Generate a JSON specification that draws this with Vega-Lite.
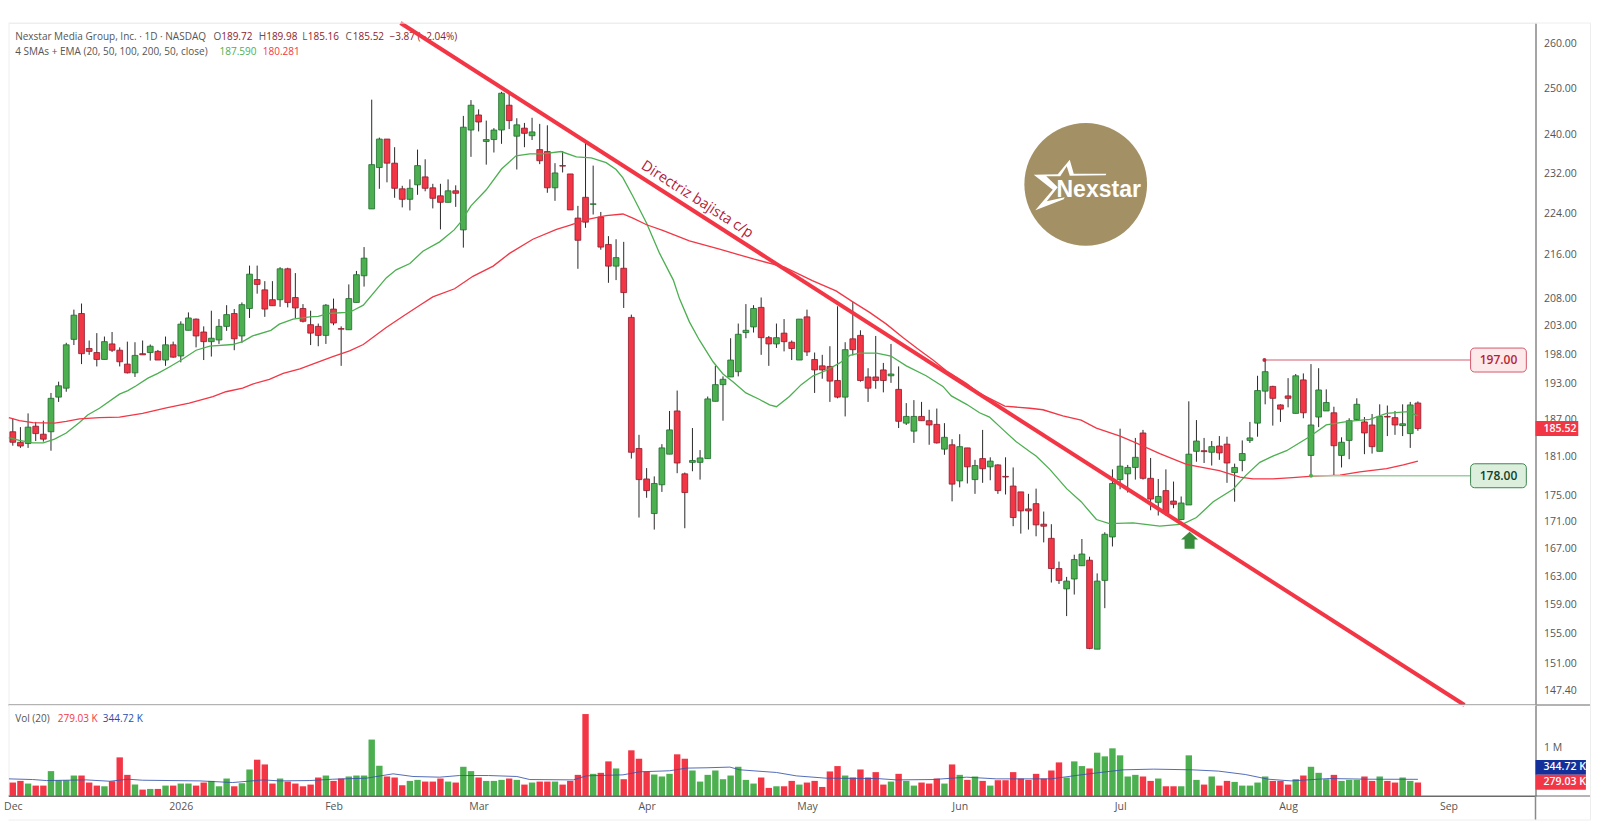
{
  "$schema": "https://vega.github.io/schema/vega-lite/v6.json",
  "background": "white",
  "padding": {"left": 2.5, "top": 14, "right": 0, "bottom": 0},
  "spacing": 0,
  "bounds": "flush",
  "config": {
    "view": {"stroke": "#eeeeee"},
    "axis": {"labelFont": "Open Sans", "labelFontSize": 10.5, "labelColor": "#555555", "ticks": false, "grid": false, "title": null, "domainColor": "#8a8a8a", "domainWidth": 1.5}
  },
  "datasets": {
    "bars": [
      {"n":1,"o":185,"h":187.2,"l":182.75,"c":183.3,"v":278},
      {"n":2,"o":183.3,"h":185.75,"l":182.4,"c":182.7,"v":312},
      {"n":3,"o":183.1,"h":188,"l":182.4,"c":185.75,"v":257},
      {"n":4,"o":185.9,"h":186.6,"l":183.5,"c":184.7,"v":215},
      {"n":5,"o":184.6,"h":186.8,"l":183.4,"c":183.8,"v":215},
      {"n":6,"o":185,"h":191.4,"l":181.95,"c":190.5,"v":514},
      {"n":7,"o":190.7,"h":193.3,"l":189.9,"c":192.6,"v":326},
      {"n":8,"o":192.2,"h":200,"l":191.6,"c":199.65,"v":326},
      {"n":9,"o":200.6,"h":205.9,"l":199.6,"c":204.9,"v":423},
      {"n":10,"o":205.2,"h":207,"l":196.3,"c":198.1,"v":423},
      {"n":11,"o":199,"h":200.4,"l":197.9,"c":198.5,"v":278},
      {"n":12,"o":198.3,"h":201.7,"l":195.9,"c":197.1,"v":215},
      {"n":13,"o":197.1,"h":201.1,"l":197.1,"c":200.2,"v":201},
      {"n":14,"o":199.8,"h":201.9,"l":198.4,"c":198.7,"v":305},
      {"n":15,"o":198.7,"h":199.2,"l":195.9,"c":196.7,"v":798},
      {"n":16,"o":196.3,"h":200.2,"l":194.7,"c":194.8,"v":437},
      {"n":17,"o":194.8,"h":200.1,"l":194.1,"c":197.8,"v":236},
      {"n":18,"o":198.1,"h":200.4,"l":197.9,"c":197.9,"v":132},
      {"n":19,"o":198.3,"h":199.7,"l":196.9,"c":199.4,"v":146},
      {"n":20,"o":198.5,"h":198.75,"l":197,"c":197,"v":146},
      {"n":21,"o":197,"h":201.1,"l":196,"c":199.65,"v":215},
      {"n":22,"o":199.65,"h":200.2,"l":197.4,"c":197.5,"v":215},
      {"n":23,"o":197.7,"h":203.8,"l":196.6,"c":203.3,"v":257},
      {"n":24,"o":202.2,"h":205.4,"l":202.2,"c":204.4,"v":257},
      {"n":25,"o":204.2,"h":204.3,"l":199.2,"c":201.2,"v":215},
      {"n":26,"o":201.9,"h":202.9,"l":197,"c":200.2,"v":278},
      {"n":27,"o":200.2,"h":205.7,"l":197.6,"c":200.8,"v":312},
      {"n":28,"o":200.5,"h":204.2,"l":199.8,"c":202.9,"v":201},
      {"n":29,"o":202.9,"h":206.7,"l":202.1,"c":205,"v":361},
      {"n":30,"o":205.2,"h":206,"l":198.7,"c":200.7,"v":201},
      {"n":31,"o":201.2,"h":207.2,"l":200,"c":206.8,"v":264},
      {"n":32,"o":206.1,"h":214,"l":204.4,"c":212.4,"v":548},
      {"n":33,"o":211.4,"h":214,"l":208.8,"c":210.5,"v":750},
      {"n":34,"o":209.5,"h":211.1,"l":204.6,"c":206,"v":652},
      {"n":35,"o":207.7,"h":211.1,"l":206.6,"c":206.6,"v":257},
      {"n":36,"o":207.7,"h":213.7,"l":206.4,"c":213.4,"v":361},
      {"n":37,"o":213.4,"h":213.6,"l":206.3,"c":207.2,"v":298},
      {"n":38,"o":208.1,"h":212.6,"l":204.3,"c":206.2,"v":257},
      {"n":39,"o":206.1,"h":206.9,"l":203.6,"c":203.8,"v":201},
      {"n":40,"o":203.2,"h":205.7,"l":199.6,"c":201.7,"v":236},
      {"n":41,"o":202.9,"h":203.4,"l":199.4,"c":201.3,"v":382},
      {"n":42,"o":201.3,"h":206.9,"l":199.8,"c":206.7,"v":423},
      {"n":43,"o":206,"h":207.9,"l":203.1,"c":203.5,"v":312},
      {"n":44,"o":202.5,"h":202.9,"l":196,"c":202.4,"v":361},
      {"n":45,"o":202.3,"h":210.5,"l":202.3,"c":207.9,"v":403},
      {"n":46,"o":207.2,"h":213,"l":207.2,"c":212.3,"v":423},
      {"n":47,"o":212.1,"h":217.5,"l":210.1,"c":215.4,"v":423},
      {"n":48,"o":224.9,"h":247.5,"l":224.9,"c":233.8,"v":1166},
      {"n":49,"o":233.2,"h":239.4,"l":228.9,"c":239.1,"v":625},
      {"n":50,"o":239.1,"h":239.1,"l":230.2,"c":234.1,"v":403},
      {"n":51,"o":234.1,"h":237.4,"l":227.1,"c":229,"v":382},
      {"n":52,"o":228.9,"h":229.5,"l":225.2,"c":226.8,"v":222},
      {"n":53,"o":226.8,"h":230.8,"l":224.6,"c":229,"v":312},
      {"n":54,"o":229.7,"h":236.9,"l":227.7,"c":233.6,"v":333},
      {"n":55,"o":231.3,"h":234.9,"l":228.4,"c":229,"v":298},
      {"n":56,"o":229.1,"h":229.9,"l":225,"c":227,"v":298},
      {"n":57,"o":227.5,"h":229.9,"l":220.9,"c":226.2,"v":361},
      {"n":58,"o":226.2,"h":230.8,"l":226.2,"c":228.5,"v":298},
      {"n":59,"o":228.5,"h":229.6,"l":225.3,"c":228,"v":278},
      {"n":60,"o":220.8,"h":244,"l":217.4,"c":241.6,"v":604},
      {"n":61,"o":241,"h":247.4,"l":235.4,"c":246.3,"v":514},
      {"n":62,"o":244.2,"h":245.4,"l":240.7,"c":242.7,"v":382},
      {"n":63,"o":238.6,"h":243,"l":233.8,"c":239,"v":312},
      {"n":64,"o":239,"h":241.4,"l":236.3,"c":241,"v":312},
      {"n":65,"o":241,"h":249.2,"l":238.1,"c":248.9,"v":333},
      {"n":66,"o":246.3,"h":249,"l":241.2,"c":243,"v":361},
      {"n":67,"o":239.7,"h":243.5,"l":232.8,"c":242.1,"v":333},
      {"n":68,"o":241.4,"h":242.5,"l":237.4,"c":240.3,"v":236},
      {"n":69,"o":239.8,"h":243.6,"l":238.9,"c":240.6,"v":278},
      {"n":70,"o":236.9,"h":242.3,"l":233.9,"c":234.6,"v":298},
      {"n":71,"o":236.5,"h":242,"l":228.1,"c":229.1,"v":298},
      {"n":72,"o":229.1,"h":234.1,"l":226.5,"c":232.1,"v":298},
      {"n":73,"o":233.6,"h":236.6,"l":232.2,"c":233.5,"v":236},
      {"n":74,"o":231.9,"h":231.9,"l":224.7,"c":224.7,"v":312},
      {"n":75,"o":223.1,"h":225.5,"l":213.4,"c":218.8,"v":437},
      {"n":76,"o":227.2,"h":238.6,"l":221.2,"c":222.3,"v":1693},
      {"n":77,"o":225.8,"h":233.6,"l":223.8,"c":225.9,"v":458},
      {"n":78,"o":223.3,"h":224.3,"l":217,"c":217.5,"v":479},
      {"n":79,"o":218,"h":219.6,"l":210.8,"c":213.9,"v":715},
      {"n":80,"o":213.9,"h":219,"l":211.3,"c":215.5,"v":569},
      {"n":81,"o":213.5,"h":218.5,"l":206.2,"c":209,"v":347},
      {"n":82,"o":204.5,"h":205,"l":180.7,"c":181.7,"v":944},
      {"n":83,"o":182.3,"h":184.5,"l":171.6,"c":177.4,"v":770},
      {"n":84,"o":177.5,"h":179.2,"l":174.6,"c":175.7,"v":507},
      {"n":85,"o":172.2,"h":177.9,"l":169.8,"c":176.8,"v":444},
      {"n":86,"o":176.6,"h":183,"l":175.5,"c":182.4,"v":403},
      {"n":87,"o":181.4,"h":188.4,"l":181.4,"c":185.3,"v":458},
      {"n":88,"o":188.4,"h":191.8,"l":178.4,"c":180,"v":861},
      {"n":89,"o":178.3,"h":178.5,"l":170,"c":175.4,"v":770},
      {"n":90,"o":180.1,"h":185.6,"l":178.7,"c":180.4,"v":527},
      {"n":91,"o":180.1,"h":182.05,"l":177.4,"c":180.8,"v":298},
      {"n":92,"o":180.7,"h":190.8,"l":180.7,"c":190.4,"v":437},
      {"n":93,"o":190,"h":196,"l":190,"c":192.8,"v":527},
      {"n":94,"o":192.8,"h":194.2,"l":186.8,"c":193.7,"v":347},
      {"n":95,"o":194.1,"h":200.8,"l":194.1,"c":197,"v":423},
      {"n":96,"o":195,"h":203.4,"l":194.2,"c":201.5,"v":604},
      {"n":97,"o":201.8,"h":206.9,"l":200.8,"c":202.2,"v":333},
      {"n":98,"o":202.8,"h":206.7,"l":201.8,"c":206.1,"v":257},
      {"n":99,"o":206.3,"h":208.1,"l":197.9,"c":200.9,"v":382},
      {"n":100,"o":200.9,"h":201.2,"l":196,"c":199.8,"v":167},
      {"n":101,"o":199.8,"h":203.4,"l":199.1,"c":200.9,"v":201},
      {"n":102,"o":201.7,"h":204.2,"l":198.5,"c":200.2,"v":201},
      {"n":103,"o":200.1,"h":200.4,"l":197,"c":199,"v":312},
      {"n":104,"o":197,"h":204.2,"l":197,"c":204.2,"v":236},
      {"n":105,"o":204.6,"h":205.9,"l":197.7,"c":198.4,"v":278},
      {"n":106,"o":197.1,"h":198.3,"l":191.4,"c":195.3,"v":312},
      {"n":107,"o":196,"h":197.9,"l":193.8,"c":195.3,"v":187},
      {"n":108,"o":195.9,"h":199.4,"l":189.9,"c":193.4,"v":507},
      {"n":109,"o":193.5,"h":206.5,"l":190.5,"c":190.7,"v":618},
      {"n":110,"o":190.7,"h":200.1,"l":187.5,"c":198.8,"v":423},
      {"n":111,"o":200.7,"h":207.3,"l":197.8,"c":198.8,"v":382},
      {"n":112,"o":201.3,"h":202.2,"l":193.3,"c":193.5,"v":548},
      {"n":113,"o":194.1,"h":195.6,"l":189.9,"c":192.2,"v":382},
      {"n":114,"o":194.1,"h":201.2,"l":192.1,"c":193.5,"v":493},
      {"n":115,"o":195.3,"h":196.5,"l":191.5,"c":193.5,"v":236},
      {"n":116,"o":194.3,"h":199.8,"l":193.1,"c":194.6,"v":298},
      {"n":117,"o":192,"h":195.9,"l":185.6,"c":186.7,"v":458},
      {"n":118,"o":186.4,"h":189.7,"l":186.1,"c":187.5,"v":312},
      {"n":119,"o":185.1,"h":190.2,"l":183.2,"c":187.5,"v":215},
      {"n":120,"o":187.5,"h":189.9,"l":186.8,"c":186.8,"v":278},
      {"n":121,"o":186.8,"h":188.6,"l":182.9,"c":186.1,"v":257},
      {"n":122,"o":186.2,"h":188.8,"l":183.1,"c":183.2,"v":361},
      {"n":123,"o":182.2,"h":186.4,"l":181.3,"c":184.1,"v":257},
      {"n":124,"o":182.9,"h":183.8,"l":174.05,"c":176.7,"v":652},
      {"n":125,"o":177.2,"h":184.6,"l":176.2,"c":182.6,"v":437},
      {"n":126,"o":182.4,"h":182.4,"l":176.8,"c":179.4,"v":333},
      {"n":127,"o":177.4,"h":180.5,"l":175.2,"c":179.6,"v":403},
      {"n":128,"o":180.7,"h":185.3,"l":176.9,"c":179.1,"v":312},
      {"n":129,"o":179.4,"h":180.9,"l":177.3,"c":180.3,"v":215},
      {"n":130,"o":179.7,"h":179.8,"l":175.2,"c":175.7,"v":326},
      {"n":131,"o":177.9,"h":180.9,"l":175.1,"c":177.8,"v":326},
      {"n":132,"o":176.4,"h":179.3,"l":170.3,"c":171.6,"v":493},
      {"n":133,"o":175.5,"h":175.5,"l":169.2,"c":172.6,"v":361},
      {"n":134,"o":172.9,"h":175.2,"l":169.8,"c":172.6,"v":333},
      {"n":135,"o":173.7,"h":176,"l":168.8,"c":170.5,"v":458},
      {"n":136,"o":170.6,"h":172.5,"l":167.9,"c":170.3,"v":361},
      {"n":137,"o":168.5,"h":170.6,"l":162.1,"c":164.1,"v":527},
      {"n":138,"o":164.1,"h":165.1,"l":161.9,"c":162.4,"v":694},
      {"n":139,"o":161.2,"h":162.9,"l":157.4,"c":162.3,"v":382},
      {"n":140,"o":162.6,"h":166.1,"l":160.4,"c":165.4,"v":715},
      {"n":141,"o":164.5,"h":168.4,"l":164.5,"c":166.2,"v":618},
      {"n":142,"o":165.3,"h":165.8,"l":152.9,"c":153,"v":569},
      {"n":143,"o":152.9,"h":163.4,"l":152.9,"c":162.3,"v":895},
      {"n":144,"o":162.4,"h":169.4,"l":158.5,"c":169.1,"v":819},
      {"n":145,"o":168.7,"h":179,"l":167.3,"c":176.8,"v":985},
      {"n":146,"o":177.4,"h":185.5,"l":175.9,"c":179.5,"v":840},
      {"n":147,"o":178.3,"h":179.7,"l":175.4,"c":179.3,"v":403},
      {"n":148,"o":179.3,"h":184,"l":177.4,"c":180.9,"v":437},
      {"n":149,"o":184.8,"h":185.3,"l":177.4,"c":177.6,"v":403},
      {"n":150,"o":177.6,"h":180.8,"l":172.7,"c":174.4,"v":312},
      {"n":151,"o":173.9,"h":177.5,"l":171.9,"c":174.8,"v":361},
      {"n":152,"o":175.7,"h":179,"l":171.9,"c":172.2,"v":201},
      {"n":153,"o":174.1,"h":177.1,"l":173,"c":173.6,"v":201},
      {"n":154,"o":171.3,"h":174.8,"l":171.2,"c":173.8,"v":201},
      {"n":155,"o":173.5,"h":190,"l":173.5,"c":181.4,"v":840},
      {"n":156,"o":181.85,"h":186.9,"l":180.2,"c":183.5,"v":333},
      {"n":157,"o":181.95,"h":184,"l":180,"c":181.8,"v":236},
      {"n":158,"o":181.7,"h":183.5,"l":179.6,"c":182.6,"v":403},
      {"n":159,"o":182.7,"h":184.3,"l":180.5,"c":181.6,"v":215},
      {"n":160,"o":183,"h":184.2,"l":176.9,"c":180,"v":312},
      {"n":161,"o":178.5,"h":179.9,"l":174,"c":179.3,"v":291},
      {"n":162,"o":180.4,"h":183.6,"l":178.7,"c":181.5,"v":215},
      {"n":163,"o":183.6,"h":186.6,"l":183.2,"c":184,"v":215},
      {"n":164,"o":186.4,"h":194.3,"l":184.2,"c":191.8,"v":278},
      {"n":165,"o":191.7,"h":197,"l":189.5,"c":195,"v":403},
      {"n":166,"o":192.5,"h":192.6,"l":186,"c":190.5,"v":312},
      {"n":167,"o":189.4,"h":189.5,"l":186.6,"c":188.7,"v":312},
      {"n":168,"o":190.9,"h":193.9,"l":189,"c":190.5,"v":236},
      {"n":169,"o":188,"h":194.6,"l":188,"c":194.3,"v":347},
      {"n":170,"o":193.6,"h":194.7,"l":187.2,"c":188.1,"v":423},
      {"n":171,"o":181.2,"h":196.3,"l":178,"c":186.1,"v":604},
      {"n":172,"o":187.4,"h":195.6,"l":185.75,"c":191.9,"v":479},
      {"n":173,"o":188.4,"h":192,"l":188.4,"c":189.8,"v":347},
      {"n":174,"o":188.1,"h":189.1,"l":178,"c":182.75,"v":437},
      {"n":175,"o":181.2,"h":184.1,"l":179.3,"c":183.3,"v":312},
      {"n":176,"o":183.6,"h":187.2,"l":180.6,"c":186.8,"v":333},
      {"n":177,"o":187,"h":190.5,"l":186.9,"c":189.5,"v":333},
      {"n":178,"o":186.6,"h":187.4,"l":181.4,"c":184.8,"v":403},
      {"n":179,"o":186.1,"h":187.9,"l":181.5,"c":182.6,"v":312},
      {"n":180,"o":181.85,"h":189.5,"l":181.85,"c":187.5,"v":403},
      {"n":181,"o":187.5,"h":189.3,"l":184.3,"c":187.4,"v":312},
      {"n":182,"o":187.3,"h":188.4,"l":184.5,"c":186.1,"v":278},
      {"n":183,"o":186,"h":189.5,"l":184.3,"c":186.3,"v":382},
      {"n":184,"o":184.7,"h":189.9,"l":182.4,"c":189.4,"v":312},
      {"n":185,"o":189.72,"h":189.98,"l":185.16,"c":185.52,"v":279.03}
    ],
    "sma": [
      {"n":0.48,"p":184.05},{"n":1.87,"p":183.6},{"n":3.62,"p":183.2},{"n":5,"p":183.2},{"n":6.46,"p":183.8},{"n":8,"p":184.8},{"n":9.73,"p":186.5},{"n":10.8,"p":187.75},{"n":12.35,"p":188.85},{"n":14.97,"p":191.2},{"n":16.07,"p":191.8},{"n":17.16,"p":192.6},{"n":18.7,"p":193.9},{"n":20,"p":194.7},{"n":21.5,"p":195.8},{"n":23.05,"p":197},{"n":25,"p":198.7},{"n":26.8,"p":199.4},{"n":29.8,"p":199.7},{"n":31.1,"p":200.2},{"n":32.4,"p":201.2},{"n":34.8,"p":202.2},{"n":35.9,"p":203.3},{"n":37.7,"p":204.2},{"n":39.9,"p":204.6},{"n":41,"p":204.7},{"n":42.3,"p":205.2},{"n":44.7,"p":205.4},{"n":45.5,"p":205.7},{"n":46.9,"p":206.7},{"n":49.9,"p":211.7},{"n":51.2,"p":213.2},{"n":53,"p":214.4},{"n":54.7,"p":216.7},{"n":56.9,"p":218.5},{"n":58.8,"p":220.8},{"n":59.7,"p":222.4},{"n":61,"p":225.5},{"n":63,"p":228.7},{"n":65,"p":232.9},{"n":66.9,"p":235.6},{"n":68.7,"p":236},{"n":70.4,"p":236},{"n":72.8,"p":236.5},{"n":74.8,"p":235.4},{"n":76.75,"p":235.2},{"n":78.7,"p":234.2},{"n":80,"p":232.8},{"n":80.9,"p":231.1},{"n":82.2,"p":227.4},{"n":84,"p":222.1},{"n":85.7,"p":216.3},{"n":87.5,"p":211.3},{"n":88.3,"p":207.9},{"n":89.6,"p":203.7},{"n":90.9,"p":200.5},{"n":92.7,"p":196.7},{"n":94,"p":194.6},{"n":95.3,"p":193.3},{"n":97,"p":191.4},{"n":98.8,"p":190.3},{"n":100.1,"p":189.4},{"n":101,"p":189.1},{"n":102.7,"p":190.8},{"n":104.25,"p":192.8},{"n":105.8,"p":194.3},{"n":107.5,"p":195.2},{"n":109.3,"p":196.5},{"n":110.6,"p":197.8},{"n":111.9,"p":198.2},{"n":114.1,"p":198.2},{"n":116,"p":197.7},{"n":118,"p":196},{"n":120.6,"p":194.3},{"n":122.8,"p":192.5},{"n":123.9,"p":190.9},{"n":125.9,"p":189.5},{"n":127.6,"p":188.1},{"n":128.9,"p":187.4},{"n":130.7,"p":185.3},{"n":132.4,"p":183.4},{"n":134.2,"p":181.8},{"n":135,"p":181.1},{"n":136.8,"p":179},{"n":139,"p":176},{"n":140.9,"p":174},{"n":142.9,"p":171.3},{"n":144.6,"p":170.7},{"n":147.7,"p":170.8},{"n":151.2,"p":170.3},{"n":154.2,"p":170.6},{"n":156,"p":171.6},{"n":158.2,"p":174},{"n":160.8,"p":175.9},{"n":162.5,"p":178.1},{"n":164.3,"p":180.1},{"n":166,"p":181.1},{"n":167.8,"p":181.95},{"n":170.8,"p":184.2},{"n":173,"p":186.1},{"n":175.85,"p":186.7},{"n":178.7,"p":187},{"n":180.9,"p":188},{"n":183.7,"p":188.3},{"n":185,"p":187.59}
    ],
    "ema": [
      {"n":0.48,"p":187.3},{"n":1.87,"p":186.8},{"n":3.62,"p":186.5},{"n":6.46,"p":186.4},{"n":8,"p":186.7},{"n":9.73,"p":187.1},{"n":12.35,"p":187.3},{"n":14.97,"p":187.4},{"n":18,"p":188},{"n":21.1,"p":188.9},{"n":24.1,"p":189.7},{"n":27.2,"p":190.8},{"n":28.9,"p":191.6},{"n":31.1,"p":192.2},{"n":32.4,"p":192.9},{"n":34.6,"p":193.7},{"n":36.4,"p":194.7},{"n":38.6,"p":195.5},{"n":40.7,"p":196.5},{"n":42.9,"p":197.6},{"n":45.1,"p":198.6},{"n":46.9,"p":199.7},{"n":49.9,"p":202.7},{"n":52.1,"p":204.7},{"n":54.3,"p":206.7},{"n":56,"p":208.2},{"n":58.85,"p":209.7},{"n":61.25,"p":212},{"n":63.9,"p":213.9},{"n":66.05,"p":216.3},{"n":69.1,"p":219},{"n":72.2,"p":220.9},{"n":73.9,"p":221.7},{"n":76.1,"p":222.8},{"n":78.7,"p":223.6},{"n":80.9,"p":223.9},{"n":82.2,"p":223.1},{"n":84,"p":221.8},{"n":86.1,"p":220.7},{"n":89.6,"p":218.7},{"n":93.55,"p":217.1},{"n":98.1,"p":215.2},{"n":102.05,"p":213.7},{"n":105.7,"p":211.2},{"n":108.8,"p":209.3},{"n":111,"p":207.3},{"n":113.2,"p":205.4},{"n":115.4,"p":203.3},{"n":117.6,"p":200.9},{"n":119.75,"p":198.7},{"n":121.5,"p":197},{"n":123.2,"p":195.2},{"n":125.9,"p":193},{"n":127.6,"p":191.3},{"n":128.9,"p":190.5},{"n":130.9,"p":189.2},{"n":134.2,"p":188.85},{"n":135.9,"p":188.6},{"n":138.5,"p":187.6},{"n":140.9,"p":186.9},{"n":142.9,"p":185.6},{"n":146,"p":184.3},{"n":147.7,"p":183.4},{"n":151.2,"p":181.5},{"n":154.7,"p":179.8},{"n":156.4,"p":179.4},{"n":159,"p":178.8},{"n":161.7,"p":177.8},{"n":163.4,"p":177.5},{"n":166,"p":177.5},{"n":168.6,"p":177.7},{"n":170.8,"p":177.9},{"n":174.8,"p":178.1},{"n":177.4,"p":178.6},{"n":180.9,"p":179.1},{"n":183.1,"p":179.7},{"n":185,"p":180.281}
    ],
    "volma": [
      {"n":0.5,"v":354},{"n":3.6,"v":340},{"n":5.4,"v":319},{"n":10.6,"v":333},{"n":13.7,"v":305},{"n":16.1,"v":347},{"n":18,"v":326},{"n":25.5,"v":312},{"n":29.8,"v":278},{"n":33.8,"v":333},{"n":35.9,"v":312},{"n":39.9,"v":319},{"n":42.9,"v":347},{"n":47.3,"v":368},{"n":50.8,"v":458},{"n":53.4,"v":403},{"n":56.9,"v":389},{"n":59.5,"v":423},{"n":63.3,"v":423},{"n":67,"v":403},{"n":68.7,"v":340},{"n":74.4,"v":333},{"n":76.1,"v":416},{"n":80.9,"v":437},{"n":83.1,"v":500},{"n":87,"v":521},{"n":89.2,"v":576},{"n":91.9,"v":583},{"n":94.9,"v":597},{"n":96.2,"v":541},{"n":101,"v":486},{"n":103.6,"v":416},{"n":107.5,"v":368},{"n":114.1,"v":361},{"n":116.7,"v":333},{"n":121.5,"v":340},{"n":125.9,"v":389},{"n":129.8,"v":354},{"n":136.9,"v":354},{"n":141.9,"v":458},{"n":146.4,"v":541},{"n":150.4,"v":555},{"n":155.4,"v":541},{"n":158.9,"v":514},{"n":162.4,"v":444},{"n":165.4,"v":347},{"n":168.4,"v":312},{"n":173.4,"v":361},{"n":178.4,"v":347},{"n":185,"v":344.72}
    ],
    "levels": [
      {"level":197,"from":164.9,"to":191.9,"boxTo":199.2,"lo":194.94,"hi":199.08,"mid":195.55,"label":"197.00"},
      {"level":178,"from":171,"to":191.9,"boxTo":199.2,"lo":176.14,"hi":179.88,"mid":195.55,"label":"178.00"}
    ],
    "legend": [
      {"n":1.31,"p":261.5,"text":"Nexstar Media Group, Inc. · 1D · NASDAQ","kind":"gray"},
      {"n":27.28,"p":261.5,"text":"O","kind":"gray"},
      {"n":28.29,"p":261.5,"text":"189.72","kind":"down"},
      {"n":33.22,"p":261.5,"text":"H","kind":"gray"},
      {"n":34.18,"p":261.5,"text":"189.98","kind":"down"},
      {"n":38.9,"p":261.5,"text":"L","kind":"gray"},
      {"n":39.63,"p":261.5,"text":"185.16","kind":"down"},
      {"n":44.57,"p":261.5,"text":"C","kind":"gray"},
      {"n":45.53,"p":261.5,"text":"185.52","kind":"down"},
      {"n":50.33,"p":261.5,"text":"−3.87 (−2.04%)","kind":"down"},
      {"n":1.31,"p":258.1,"text":"4 SMAs + EMA (20, 50, 100, 200, 50, close)","kind":"gray"},
      {"n":28.07,"p":258.1,"text":"187.590","kind":"sma"},
      {"n":33.74,"p":258.1,"text":"180.281","kind":"ema"}
    ]
  },
  "vconcat": [
    {
      "width": 1527,
      "height": 682,
      "encoding": {
        "x": {"field": "n", "type": "quantitative", "axis": null, "scale": {"domain": [0.437, 200.4], "nice": false, "zero": false, "padding": 0}}
      },
      "layer": [
        {
          "data": {"values": [{"n": 141.5, "p": 229.8}]},
          "mark": {"type": "point", "filled": true, "shape": "circle", "size": 15055, "color": "#a39064", "opacity": 1},
          "encoding": {
            "y": {"field": "p", "type": "quantitative", "title": null,
              "scale": {"type": "log", "domain": [145.6, 264.7], "nice": false, "zero": false},
              "axis": {"orient": "right", "values": [147.4,151,155,159,163,167,171,175,181,187,193,198,203,208,216,224,232,240,250,260], "format": ".2f", "labelPadding": 8}
            }
          }
        },
        {
          "data": {"values": [{"n": 138.95, "p": 229.7}]},
          "mark": {"type": "point", "filled": true, "size": 10000, "color": "white", "opacity": 1,
            "shape": "M-0.65,-0.2L-0.17,-0.21L0.07,-0.5L0.15,-0.22L0.8,-0.22L0.79,-0.19L0.07,-0.18L0.01,-0.37L-0.12,-0.17L-0.4,-0.17L-0.17,0.05L-0.39,0.33L-0.03,0.25L-0.05,0.29L-0.62,0.51L-0.27,0.1Z"},
          "encoding": {"y": {"field": "p", "type": "quantitative", "title": null}}
        },
        {
          "data": {"values": [{"n": 143.2, "p": 228.7, "text": "Nexstar"}]},
          "mark": {"type": "text", "font": "Liberation Sans", "fontWeight": "bold", "fontSize": 23, "color": "white"},
          "encoding": {"y": {"field": "p", "type": "quantitative", "title": null}, "text": {"field": "text"}}
        },
        {
          "data": {"name": "legend"},
          "mark": {"type": "text", "font": "Open Sans", "fontSize": 10, "align": "left", "baseline": "middle"},
          "encoding": {
            "y": {"field": "p", "type": "quantitative", "title": null},
            "text": {"field": "text"},
            "color": {"condition": [
              {"test": "datum.kind=='down'", "value": "#8e1c2c"},
              {"test": "datum.kind=='sma'", "value": "#4caf50"},
              {"test": "datum.kind=='ema'", "value": "#f23645"}
            ], "value": "#555555"}
          }
        },
        {
          "data": {"name": "bars"},
          "mark": {"type": "rule", "color": "#2a2a2a", "strokeWidth": 1},
          "encoding": {
            "y": {"field": "l", "type": "quantitative", "title": null},
            "y2": {"field": "h"}
          }
        },
        {
          "data": {"name": "bars"},
          "mark": {"type": "bar", "size": 5.8, "strokeWidth": 0.8},
          "encoding": {
            "y": {"field": "o", "type": "quantitative", "title": null},
            "y2": {"field": "c"},
            "fill": {"condition": {"test": "datum.c>=datum.o", "value": "#4caf50"}, "value": "#f23645"},
            "stroke": {"condition": {"test": "datum.c>=datum.o", "value": "#1e6b2c"}, "value": "#8e1c2c"}
          }
        },
        {
          "data": {"name": "sma"},
          "mark": {"type": "line", "color": "#4caf50", "strokeWidth": 1.3},
          "encoding": {"y": {"field": "p", "type": "quantitative", "title": null}}
        },
        {
          "data": {"name": "ema"},
          "mark": {"type": "line", "color": "#f23645", "strokeWidth": 1.3},
          "encoding": {"y": {"field": "p", "type": "quantitative", "title": null}}
        },
        {
          "data": {"name": "levels"},
          "mark": {"type": "rule", "strokeWidth": 1.4},
          "encoding": {
            "x": {"field": "from", "type": "quantitative"},
            "x2": {"field": "to"},
            "y": {"field": "level", "type": "quantitative", "title": null},
            "color": {"condition": {"test": "datum.level>190", "value": "#e2929d"}, "value": "#9ccf9f"}
          }
        },
        {
          "data": {"name": "levels"},
          "mark": {"type": "point", "filled": true, "size": 16, "opacity": 1},
          "encoding": {
            "x": {"field": "from", "type": "quantitative"},
            "y": {"field": "level", "type": "quantitative", "title": null},
            "color": {"condition": {"test": "datum.level>190", "value": "#c2283c"}, "value": "#4caf50"}
          }
        },
        {
          "data": {"name": "levels"},
          "mark": {"type": "rect", "cornerRadius": 4, "strokeWidth": 1},
          "encoding": {
            "x": {"field": "to", "type": "quantitative"},
            "x2": {"field": "boxTo"},
            "y": {"field": "lo", "type": "quantitative", "title": null},
            "y2": {"field": "hi"},
            "fill": {"condition": {"test": "datum.level>190", "value": "#fde8ea"}, "value": "#dcefdc"},
            "stroke": {"condition": {"test": "datum.level>190", "value": "#d3596c"}, "value": "#3f8550"}
          }
        },
        {
          "data": {"name": "levels"},
          "mark": {"type": "text", "font": "Open Sans", "fontSize": 12, "fontWeight": 600},
          "encoding": {
            "x": {"field": "mid", "type": "quantitative"},
            "y": {"field": "level", "type": "quantitative", "title": null},
            "text": {"field": "label"},
            "color": {"condition": {"test": "datum.level>190", "value": "#b71f38"}, "value": "#123f2a"}
          }
        },
        {
          "data": {"values": [{"n": 90.6, "p": 226.7, "text": "Directriz bajista c/p"}]},
          "mark": {"type": "text", "font": "Open Sans", "fontSize": 14.5, "fontWeight": 500, "angle": 32.7, "color": "#b2203a"},
          "encoding": {"y": {"field": "p", "type": "quantitative", "title": null}, "text": {"field": "text"}}
        },
        {
          "data": {"values": [{"n": 51.77, "p": 264.7}, {"n": 191.1, "p": 145.6}]},
          "mark": {"type": "line", "color": "#f23645", "strokeWidth": 4},
          "encoding": {"y": {"field": "p", "type": "quantitative", "title": null}}
        },
        {
          "data": {"values": [{"n": 155.1, "p": 168.2}]},
          "mark": {"type": "point", "filled": true, "size": 289, "color": "#388e3c", "opacity": 1,
            "shape": "M0,-1L1,-0.1L0.59,-0.1L0.59,1L-0.59,1L-0.59,-0.1L-1,-0.1Z"},
          "encoding": {"y": {"field": "p", "type": "quantitative", "title": null}}
        },
        {
          "data": {"values": [{"n": 200.4, "n2": 206, "hi": 186.75, "lo": 184.3}]},
          "mark": {"type": "rect", "color": "#f23645"},
          "encoding": {
            "x": {"field": "n", "type": "quantitative"},
            "x2": {"field": "n2"},
            "y": {"field": "lo", "type": "quantitative", "title": null},
            "y2": {"field": "hi"}
          }
        },
        {
          "data": {"values": [{"n": 201.46, "p": 185.52, "text": "185.52"}]},
          "mark": {"type": "text", "font": "Open Sans", "fontSize": 10.5, "align": "left", "color": "white", "fontWeight": 600},
          "encoding": {"y": {"field": "p", "type": "quantitative", "title": null}, "text": {"field": "text"}}
        },
        {
          "data": {"values": [{"n": 0.437, "n2": 207.6, "p": 145.6}]},
          "mark": {"type": "rule", "color": "#9a9a9a", "strokeWidth": 1.5},
          "encoding": {
            "x": {"field": "n", "type": "quantitative"},
            "x2": {"field": "n2"},
            "y": {"field": "p", "type": "quantitative", "title": null}
          }
        },
        {
          "data": {"values": [{"n": 0.437, "n2": 207.6, "p": 264.7}]},
          "mark": {"type": "rule", "color": "#eeeeee", "strokeWidth": 1},
          "encoding": {
            "x": {"field": "n", "type": "quantitative"},
            "x2": {"field": "n2"},
            "y": {"field": "p", "type": "quantitative", "title": null}
          }
        },
        {
          "data": {"values": [{"n": 207.6, "lo": 145.6, "hi": 264.7}]},
          "mark": {"type": "rule", "color": "#eeeeee", "strokeWidth": 1},
          "encoding": {
            "y": {"field": "lo", "type": "quantitative", "title": null},
            "y2": {"field": "hi"}
          }
        }
      ]
    },
    {
      "width": 1527,
      "height": 91,
      "encoding": {
        "x": {"field": "n", "type": "quantitative", "title": null,
          "scale": {"domain": [0.437, 200.4], "nice": false, "zero": false, "padding": 0},
          "axis": {"values": [1,23,43,62,84,105,125,146,168,189], "labelExpr": "{'1':'Dec','23':'2026','43':'Feb','62':'Mar','84':'Apr','105':'May','125':'Jun','146':'Jul','168':'Aug','189':'Sep'}[datum.value]", "labelPadding": 5, "domainWidth": 1, "domainColor": "#6a6a6a"}
        }
      },
      "layer": [
        {
          "data": {"name": "bars"},
          "mark": {"type": "bar", "size": 6.4},
          "encoding": {
            "y": {"field": "v", "type": "quantitative", "title": null,
              "scale": {"domain": [0, 1880], "nice": false},
              "axis": {"orient": "right", "values": [1000], "labelExpr": "'1 M'", "labelPadding": 8}
            },
            "color": {"condition": {"test": "datum.c>=datum.o", "value": "#4caf50"}, "value": "#f23645"}
          }
        },
        {
          "data": {"name": "volma"},
          "mark": {"type": "line", "color": "#3553ad", "strokeWidth": 1, "opacity": 0.85},
          "encoding": {"y": {"field": "v", "type": "quantitative", "title": null}}
        },
        {
          "data": {"values": [
            {"n": 1.31, "v": 1592, "text": "Vol (20)", "kind": "gray"},
            {"n": 6.89, "v": 1592, "text": "279.03 K", "kind": "red"},
            {"n": 12.79, "v": 1592, "text": "344.72 K", "kind": "blue"}
          ]},
          "mark": {"type": "text", "font": "Open Sans", "fontSize": 10, "align": "left"},
          "encoding": {
            "y": {"field": "v", "type": "quantitative", "title": null},
            "text": {"field": "text"},
            "color": {"condition": [
              {"test": "datum.kind=='red'", "value": "#f23645"},
              {"test": "datum.kind=='blue'", "value": "#2a4bab"}
            ], "value": "#555555"}
          }
        },
        {
          "data": {"values": [
            {"n": 200.4, "n2": 207, "lo": 440, "hi": 744, "tag": "volma"},
            {"n": 200.4, "n2": 207, "lo": 130, "hi": 440, "tag": "vol"}
          ]},
          "mark": {"type": "rect"},
          "encoding": {
            "x": {"field": "n", "type": "quantitative"},
            "x2": {"field": "n2"},
            "y": {"field": "lo", "type": "quantitative", "title": null},
            "y2": {"field": "hi"},
            "color": {"condition": {"test": "datum.tag=='volma'", "value": "#13309a"}, "value": "#f23645"}
          }
        },
        {
          "data": {"values": [
            {"n": 201.46, "v": 592, "text": "344.72 K"},
            {"n": 201.46, "v": 285, "text": "279.03 K"}
          ]},
          "mark": {"type": "text", "font": "Open Sans", "fontSize": 10.5, "align": "left", "color": "white", "fontWeight": 600},
          "encoding": {"y": {"field": "v", "type": "quantitative", "title": null}, "text": {"field": "text"}}
        },
        {
          "data": {"values": [{"n": 0.437, "n2": 207.6, "v": 0}]},
          "mark": {"type": "rule", "color": "#6a6a6a", "strokeWidth": 1},
          "encoding": {
            "x": {"field": "n", "type": "quantitative"},
            "x2": {"field": "n2"},
            "y": {"field": "v", "type": "quantitative", "title": null}
          }
        },
        {
          "data": {"values": [{"n": 200.4, "lo": -496, "hi": 0}]},
          "mark": {"type": "rule", "color": "#8a8a8a", "strokeWidth": 1.5},
          "encoding": {
            "y": {"field": "lo", "type": "quantitative", "title": null},
            "y2": {"field": "hi"}
          }
        },
        {
          "data": {"values": [{"n": 0.437, "n2": 207.6, "v": -496}]},
          "mark": {"type": "rule", "color": "#eeeeee", "strokeWidth": 1},
          "encoding": {
            "x": {"field": "n", "type": "quantitative"},
            "x2": {"field": "n2"},
            "y": {"field": "v", "type": "quantitative", "title": null}
          }
        },
        {
          "data": {"values": [{"n": 207.6, "lo": -496, "hi": 1880}]},
          "mark": {"type": "rule", "color": "#eeeeee", "strokeWidth": 1},
          "encoding": {
            "y": {"field": "lo", "type": "quantitative", "title": null},
            "y2": {"field": "hi"}
          }
        }
      ]
    }
  ]
}
